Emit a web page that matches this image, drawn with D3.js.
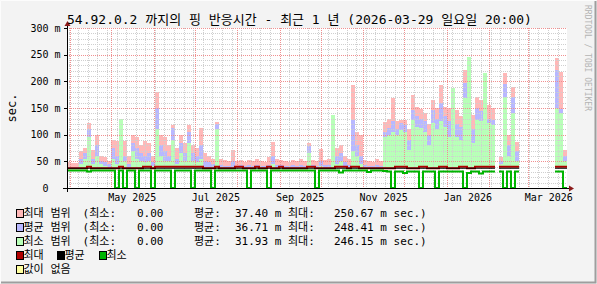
<!DOCTYPE html>
<html><head><meta charset="utf-8">
<script src="https://cdn.jsdelivr.net/npm/d3@7"></script>
<style>
body{margin:0;background:#f3f3f3}
svg{display:block}
text{white-space:pre;font-family:'DejaVu Sans Mono',monospace}
</style>
</head><body><svg id="c" width="597" height="284"></svg>
<script>
// ---------------- data ----------------
const startTime = "2025-03-29T20:00:00Z";
const endTime   = "2026-03-29T20:00:00Z";
const titleText = "54.92.0.2 까지의 핑 반응시간 - 최근 1 년 (2026-03-29 일요일 20:00)";
const yTicks = [0, 50, 100, 150, 200, 250, 300];
const yTickLabels = ["0  ", "50 m", "100 m", "150 m", "200 m", "250 m", "300 m"];
const xLabelMonths = ["2025-05", "2025-07", "2025-09", "2025-11", "2026-01", "2026-03"];
const xLabels = ["May 2025", "Jul 2025", "Sep 2025", "Nov 2025", "Jan 2026", "Mar 2026"];
const areaBase = 37;
const N = null;
// top of the "max range" area (pink)
const maxTop = [48,47,46,70,75,122,72,100,60,58, 50,90,88,85,88,60,100,95,80,88,
  85,60,180,100,95,80,118,75,100,85, 118,80,75,112,65,60,55,124,55,52,
  50,72,50,52,48,52,50,54,50,48, 58,86,55,52,50,48,52,50,54,50,
  84,52,50,73,52,55,100,75,80,60, 55,193,105,100,52,50,48,55,50,124,
  130,169,125,127,127,110,174,152,149,140, 120,165,150,193,152,150,140,146,135,221,
  187,137,171,165,156,156,150,N,59,215, 100,190,86,N,N,N,N,N,N,N, N,N,243,218,71];
// top of the "avg range" area (blue)
const avgTop = [40,40,40,55,65,110,55,80,50,48, 45,75,60,70,60,45,85,75,65,60,
  65,48,150,80,70,60,112,55,85,65, 105,65,60,80,50,48,45,120,44,41,
  41,50,41,43,41,43,41,44,41,41, 44,60,44,43,41,41,43,41,44,41,
  78,43,41,50,43,44,80,60,65,48, 44,127,80,60,43,41,41,44,41,105,
  112,125,110,121,118,90,146,135,130,125, 100,146,130,160,135,125,125,120,115,196,
  165,110,150,145,140,130,128,N,50,195, 80,170,70,N,N,N,N,N,N,N, N,N,221,149,60];
// top of the "min range" area (green)
const minTop = [37,37,37,45,55,95,45,60,45,42, 37,55,45,130,50,37,70,55,50,48,
  50,42,110,60,50,50,90,45,65,50, 85,50,48,55,37,37,37,110,37,37,
  37,37,37,37,37,37,37,37,37,37, 37,45,37,37,37,37,37,37,37,37,
  65,37,37,42,37,37,137,45,50,37, 37,70,60,45,37,37,37,37,37,95,
  100,105,100,109,105,71,127,115,112,105, 80,121,110,125,115,96,187,96,90,168,
  246,84,127,125,215,121,118,N,45,170, 60,140,50,N,N,N,N,N,N,N, N,N,150,140,50];
// max (dark red line), avg (black line), min (green line)
const maxLine = [37,37,37,37,37,40,37,37,37,37, 37,37,37,40,37,37,37,37,37,40,
  40,37,40,40,40,40,40,40,40,40, 40,40,40,40,37,37,37,40,37,37,
  37,37,40,40,37,37,37,40,37,37, 40,37,37,40,37,37,37,37,37,37,
  40,40,37,37,37,37,37,40,40,40, 37,40,40,37,37,37,37,37,37,37,
  37,37,40,40,40,37,37,37,40,40, 37,37,37,40,40,37,37,37,40,40,
  37,37,40,40,40,40,40,N,40,40, 40,40,40,N,N,N,N,N,N,N, N,N,40,40,40];
const avgLine = [37,37,37,37,37,37,37,37,37,37, 37,37,37,37,37,37,37,37,37,37,
  37,37,37,37,37,37,37,37,37,37, 37,37,37,37,37,37,37,37,37,37,
  37,37,37,37,37,37,37,37,37,37, 37,37,37,37,37,37,37,37,37,37,
  37,37,37,37,37,37,37,37,37,37, 37,37,37,37,37,37,37,37,37,37,
  37,37,37,37,37,37,37,37,37,37, 37,37,37,37,37,37,37,37,37,37,
  37,37,37,37,37,37,37,N,37,37, 37,37,37,N,N,N,N,N,N,N, N,N,37,37,37];
const minLine = [33,33,33,33,33,31,33,33,33,33, 33,33,0,33,0,33,33,0,33,33,
  33,0,33,33,33,33,0,33,33,33, 33,0,33,33,33,33,0,33,33,33,
  33,33,33,33,33,0,33,33,33,33, 0,33,33,33,33,33,33,33,33,33,
  33,33,0,33,33,33,33,33,29,33, 33,33,33,33,33,30,33,33,33,32,
  31,0,31,31,28,31,31,31,0,31, 31,31,0,31,31,31,31,31,31,0,
  28,31,31,27,31,31,31,N,31,0, 31,0,31,N,N,N,N,N,N,N, N,N,31,31,0];
const legendNames = ["최대 범위", "평균 범위", "최소 범위"];
const legendMin = ["0.00", "0.00", "0.00"];
const legendAvg = ["37.40 m", "36.71 m", "31.93 m"];
const legendMax = ["250.67 m sec.)", "248.41 m sec.)", "246.15 m sec.)"];
const lineNames = ["최대", "평균", "최소"];
const noDataName = "값이 없음";

// ---------------- styles ----------------
const C = {pink:"#ffb8b8", blue:"#b8b8ff", green:"#b8ffb8",
  red:"#b00000", black:"#000000", lgreen:"#00b400", nodata:"#ffffa0"};

const svg = d3.select("#c");
const W = 597, H = 284;
const X0 = 67, X1 = 567, Y0 = 188, Y1 = 28;
const t0 = new Date(startTime), t1 = new Date(endTime);
const x = d3.scaleUtc().domain([t0, t1]).range([X0, X1]);
const y = d3.scaleLinear().domain([0, 300]).range([Y0, Y1]);

const nb = maxTop.length;
const binMs = (t1 - t0) / nb;
const bins = d3.range(nb).map(i => ({
  a: new Date(+t0 + i * binMs), b: new Date(+t0 + (i + 1) * binMs),
  p: maxTop[i], bl: avgTop[i], g: minTop[i],
  mx: maxLine[i], av: avgLine[i], mn: minLine[i]
}));

// background + frame
svg.append("rect").attr("width", W).attr("height", H).attr("fill", "#f3f3f3");
svg.append("path").attr("d", `M0.5,${H-1}V0.5H${W-1}`).attr("stroke", "#fcfcfc").attr("fill", "none");
svg.append("path").attr("d", `M1,${H-1.5}H${W-1.5}V1`).attr("stroke", "#9e9e9e").attr("stroke-width", 2).attr("fill", "none");
svg.append("rect").attr("x", X0).attr("y", Y1).attr("width", X1 - X0).attr("height", Y0 - Y1).attr("fill", "#ffffff");

// areas
const gA = svg.append("g");
[["p", C.pink], ["bl", C.blue], ["g", C.green]].forEach(([k, col]) => {
  gA.selectAll(null).data(bins.filter(d => d[k] != null && d[k] > areaBase)).join("rect")
    .attr("x", d => x(d.a)).attr("width", d => x(d.b) - x(d.a))
    .attr("y", d => y(d[k])).attr("height", d => y(areaBase) - y(d[k]))
    .attr("fill", col).attr("shape-rendering", "crispEdges");
});

// grid
const gG = svg.append("g").attr("fill", "none").attr("shape-rendering", "crispEdges");
d3.range(10, 300, 10).filter(v => v % 50).forEach(v =>
  gG.append("line").attr("x1", X0).attr("x2", X1).attr("y1", Math.round(y(v)) + .5).attr("y2", Math.round(y(v)) + .5)
    .attr("stroke", "#cfcfcf").attr("stroke-dasharray", "1,1"));
d3.utcMonday.range(t0, t1).forEach(t =>
  gG.append("line").attr("x1", Math.round(x(t)) + .5).attr("x2", Math.round(x(t)) + .5).attr("y1", Y1).attr("y2", Y0)
    .attr("stroke", "#cfcfcf").attr("stroke-dasharray", "1,1"));
yTicks.filter(v => v > 0).forEach(v =>
  gG.append("line").attr("x1", X0).attr("x2", X1).attr("y1", Math.round(y(v)) + .5).attr("y2", Math.round(y(v)) + .5)
    .attr("stroke", "#f09090").attr("stroke-dasharray", "1,1"));
d3.utcMonth.range(t0, t1).forEach(t =>
  gG.append("line").attr("x1", Math.round(x(t)) + .5).attr("x2", Math.round(x(t)) + .5).attr("y1", Y1).attr("y2", Y0)
    .attr("stroke", "#f09090").attr("stroke-dasharray", "1,1"));

// lines
const pts = k => bins.flatMap(d => [{t: d.a, v: d[k]}, {t: d.b, v: d[k]}]);
const ln = d3.line().defined(d => d.v != null).x(d => x(d.t)).y(d => y(d.v));
svg.append("path").attr("d", ln(pts("mx"))).attr("stroke", C.red).attr("stroke-width", 2).attr("fill", "none");
svg.append("path").attr("d", ln(pts("mn"))).attr("stroke", C.lgreen).attr("stroke-width", 2).attr("fill", "none");
svg.append("path").attr("d", ln(pts("av"))).attr("stroke", C.black).attr("stroke-width", 1.2).attr("fill", "none");

// axes
const gX = svg.append("g").attr("shape-rendering", "crispEdges");
gX.append("line").attr("x1", X0 - 4).attr("x2", X1 + 4).attr("y1", Y0 + .5).attr("y2", Y0 + .5).attr("stroke", "#000");
gX.append("line").attr("x1", X0 + .5).attr("x2", X0 + .5).attr("y1", Y0 + 4).attr("y2", Y1 - 3).attr("stroke", "#000");
yTicks.forEach(v => gX.append("line").attr("x1", X0 - 3).attr("x2", X0).attr("y1", Math.round(y(v)) + .5).attr("y2", Math.round(y(v)) + .5).attr("stroke", "#000"));
svg.append("path").attr("d", `M${X0-2.5},${Y1-2}L${X0+3.5},${Y1-2}L${X0+.5},${Y1-7}Z`).attr("fill", "#8b1a1a");
svg.append("path").attr("d", `M${X1+2},${Y0-2.5}L${X1+2},${Y0+3.5}L${X1+7},${Y0+.5}Z`).attr("fill", "#8b1a1a");

// text helper: hangul runs in CJK font
function rich(sel, str, hs) {
  const runs = str.match(/[\uAC00-\uD7AF]+|[^\uAC00-\uD7AF]+/g);
  runs.forEach(r => {
    const t = sel.append("tspan").text(r);
    if (/[\uAC00-\uD7AF]/.test(r)) t.attr("font-family", "'Noto Sans CJK KR'").attr("font-size", hs);
  });
  return sel;
}

// y labels
yTicks.forEach((v, i) => svg.append("text").attr("x", 60.5).attr("y", y(v) + 3.5)
  .attr("text-anchor", "end").attr("font-size", 10).attr("fill", "#000").text(yTickLabels[i]));
// x labels
xLabelMonths.forEach((m, i) => {
  const a = new Date(m + "-01T00:00:00Z"), b = d3.utcMonth.offset(a, 1);
  svg.append("text").attr("x", (x(a) + x(b)) / 2).attr("y", 200.5).attr("text-anchor", "middle")
    .attr("font-size", 10).text(xLabels[i]);
});
// title
rich(svg.append("text").attr("x", 67).attr("y", 23.5).attr("font-size", 13), titleText, 13);
// y title
svg.append("text").attr("transform", "translate(15.5,108) rotate(-90)").attr("text-anchor", "middle")
  .attr("font-size", 12).text("sec.");
// watermark
svg.append("text").attr("transform", "translate(585,5) rotate(90)").attr("font-size", 8)
  .attr("fill", "#b4b4b4").text("RRDTOOL / TOBI OETIKER");

// legend
const rowY = [216.5, 230.5, 244.5, 258.5, 272.5];
const sw = (xx, yy, col) => svg.append("rect").attr("x", xx + .5).attr("y", yy - 7.5).attr("width", 7).attr("height", 8)
  .attr("fill", col).attr("stroke", "#000").attr("shape-rendering", "crispEdges");
[C.pink, C.blue, C.green].forEach((col, i) => {
  const yy = rowY[i];
  sw(16, yy, col);
  rich(svg.append("text").attr("x", 23.5).attr("y", yy).attr("font-size", 11), legendNames[i], 11);
  rich(svg.append("text").attr("x", 82.5).attr("y", yy).attr("font-size", 11), "(최소:", 11);
  svg.append("text").attr("x", 163.5).attr("y", yy).attr("font-size", 11).attr("text-anchor", "end").text(legendMin[i]);
  rich(svg.append("text").attr("x", 194).attr("y", yy).attr("font-size", 11), "평균:", 11);
  svg.append("text").attr("x", 235).attr("y", yy).attr("font-size", 11).text(legendAvg[i]);
  rich(svg.append("text").attr("x", 288).attr("y", yy).attr("font-size", 11), "최대:", 11);
  svg.append("text").attr("x", 334).attr("y", yy).attr("font-size", 11).text(legendMax[i]);
});
[[16, C.red], [57, C.black], [99, C.lgreen]].forEach(([xx, col], i) => {
  sw(xx, rowY[3], col);
  rich(svg.append("text").attr("x", xx + 7.5).attr("y", rowY[3]).attr("font-size", 11), lineNames[i], 11);
});
sw(16, rowY[4], C.nodata);
rich(svg.append("text").attr("x", 23.5).attr("y", rowY[4]).attr("font-size", 11), noDataName, 11);
</script>
</body></html>
